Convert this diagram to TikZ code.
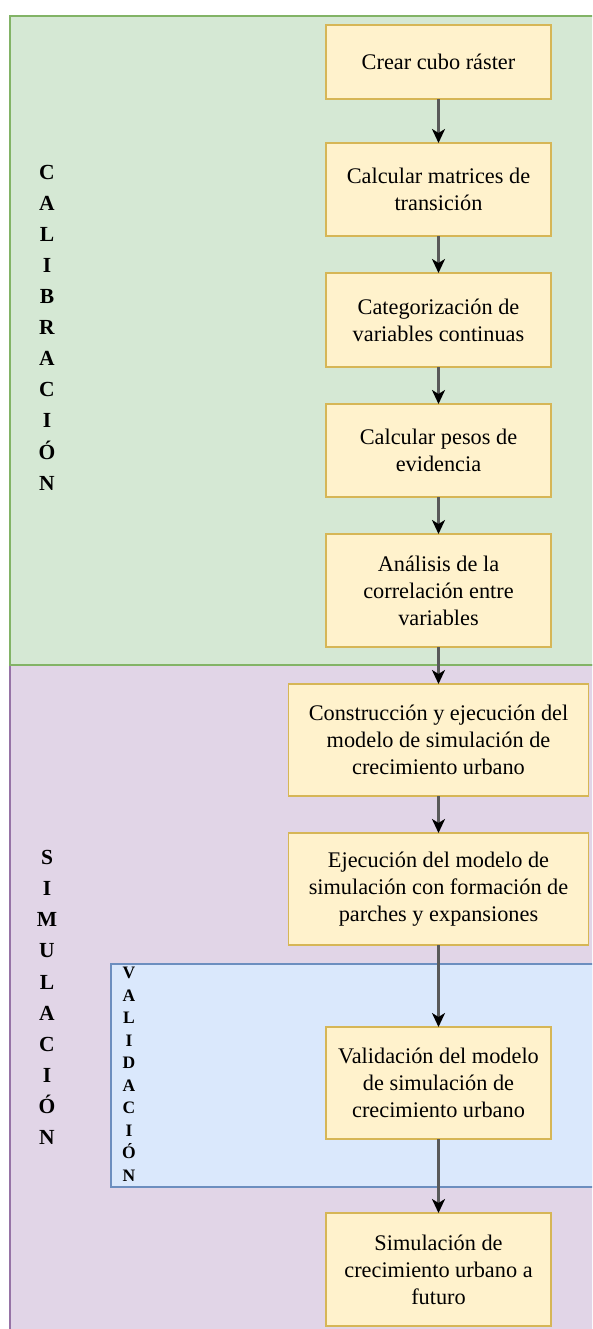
\documentclass[tikz,border=0pt]{standalone}
\usepackage{fontspec}
\setmainfont{Liberation Serif}
\usetikzlibrary{arrows.meta,positioning}
\usepackage{xcolor}

\definecolor{calfill}{HTML}{D5E8D4}
\definecolor{caldraw}{HTML}{82B366}
\definecolor{simfill}{HTML}{E1D5E7}
\definecolor{simdraw}{HTML}{9673A6}
\definecolor{valfill}{HTML}{DAE8FC}
\definecolor{valdraw}{HTML}{6C8EBF}
\definecolor{stepfill}{HTML}{FFF2CC}
\definecolor{stepdraw}{HTML}{D6B656}

\begin{document}
\begin{tikzpicture}[
        x=1pt, y=1pt,
        node distance=37pt,
        every node/.style={font=\fontsize{22.3}{27}\selectfont},
        region/.style={line width=1.5pt},
        box/.style={draw=stepdraw, fill=stepfill, line width=1.5pt, rectangle, outer sep=0pt,
                    minimum width=225pt, minimum height=93pt, align=center},
        widebox/.style={box, minimum width=300pt, minimum height=112pt},
        tallbox/.style={box, minimum height=113pt},
        vlabel/.style={align=center, font=\fontsize{21.5}{31.1}\selectfont\bfseries},
        arrow/.style={-{Stealth[length=14pt, width=13pt, inset=4pt, color=black]}, draw=black!65, line width=2.3pt}
    ]
        \useasboundingbox (0,0) rectangle (592,-1329);
        \clip (0,0) rectangle (592,-1329);

        % Phase backgrounds
        \draw[region, fill=simfill, draw=simdraw] (10,-665) rectangle (610,-1345);
        \draw[region, fill=calfill, draw=caldraw] (10,-16) rectangle (610,-665);
        \draw[region, fill=valfill, draw=valdraw] (111,-964) rectangle (610,-1187);

        % Phase labels
        \node[vlabel] (cal) at (47,-327.5) {C\\A\\L\\I\\B\\R\\A\\C\\I\\Ó\\N};
        \node[vlabel] (sim) at (47,-997.5) {S\\I\\M\\U\\L\\A\\C\\I\\Ó\\N};
        \node[vlabel, font=\fontsize{17.5}{22.5}\selectfont\bfseries] (val) at (129,-1074.5) {V\\A\\L\\I\\D\\A\\C\\I\\Ó\\N};

        % Calibration steps
        \node[box, minimum height=74pt] (crear) at (438.5,-62) {Crear cubo ráster};
        \node[box, below=44pt of crear] (matrices) {Calcular matrices de\\transición};
        \node[box, below=of matrices, minimum height=94pt] (categ) {Categorización de\\variables continuas};
        \node[box, below=of categ] (pesos) {Calcular pesos de\\evidencia};
        \node[tallbox, below=of pesos] (correl) {Análisis de la\\correlación entre\\variables};

        % Simulation steps
        \node[widebox, below=of correl] (construc) {Construcción y ejecución del\\modelo de simulación de\\crecimiento urbano};
        \node[widebox, below=of construc] (ejecuc) {Ejecución del modelo de\\simulación con formación de\\parches y expansiones};
        \node[box, below=82pt of ejecuc, minimum height=112pt] (valida) {Validación del modelo\\de simulación de\\crecimiento urbano};
        \node[tallbox, below=74pt of valida] (futuro) {Simulación de\\crecimiento urbano a\\futuro};

        % Arrows
        \draw[arrow] (crear) -- (matrices);
        \draw[arrow] (matrices) -- (categ);
        \draw[arrow] (categ) -- (pesos);
        \draw[arrow] (pesos) -- (correl);
        \draw[arrow] (correl) -- (construc);
        \draw[arrow] (construc) -- (ejecuc);
        \draw[arrow] (ejecuc) -- (valida);
        \draw[arrow] (valida) -- (futuro);
    \end{tikzpicture}
\end{document}
